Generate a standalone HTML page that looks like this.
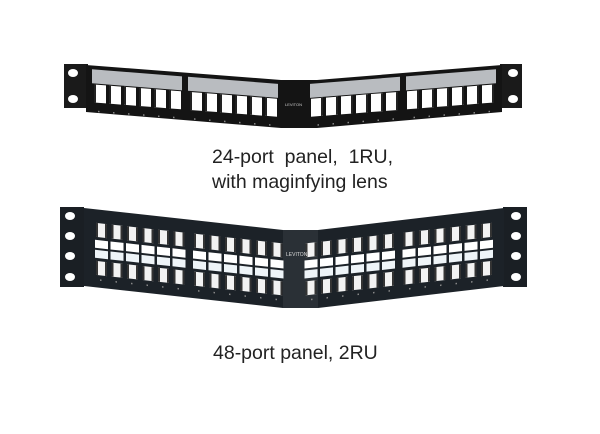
<!DOCTYPE html>
<html><head><meta charset="utf-8"><style>
html,body{margin:0;padding:0;background:#fff;width:600px;height:434px;overflow:hidden}
.t{position:absolute;font-family:"Liberation Sans",Arial,sans-serif;font-size:19.5px;color:#222;white-space:pre}
</style></head><body>
<svg id="s" width="600" height="434" style="position:absolute;left:0;top:0" xmlns="http://www.w3.org/2000/svg">
<rect x="64" y="64" width="24" height="44" fill="#1a1a1a"/>
<ellipse cx="73" cy="73" rx="5" ry="4" fill="#fff"/><ellipse cx="73" cy="99" rx="5" ry="4" fill="#fff"/>
<rect x="500" y="64" width="22" height="44" fill="#1a1a1a"/>
<ellipse cx="513" cy="73" rx="5" ry="4" fill="#fff"/><ellipse cx="513" cy="99" rx="5" ry="4" fill="#fff"/>
<polygon points="86,65 281,80 317,80 502,65 502,112 317,128 281,128 86,112" fill="#141414"/>
<g id="tl" transform="translate(88,66) matrix(1,0.078,0,1,0,0)"></g>
<g id="tr" transform="translate(500,66) scale(-1,1) matrix(1,0.078,0,1,0,0)"></g>
<text x="285" y="106" font-family="Liberation Sans,sans-serif" font-size="4" fill="#ccc">LEVITON</text>
<rect x="60" y="207" width="24" height="80" fill="#1a1f24"/>
<ellipse cx="70" cy="216" rx="5" ry="4" fill="#fff"/><ellipse cx="70" cy="236" rx="5" ry="4" fill="#fff"/><ellipse cx="70" cy="256" rx="5" ry="4" fill="#fff"/><ellipse cx="70" cy="277" rx="5" ry="4" fill="#fff"/>
<rect x="503" y="207" width="24" height="80" fill="#1a1f24"/>
<ellipse cx="516" cy="216" rx="5" ry="4" fill="#fff"/><ellipse cx="516" cy="236" rx="5" ry="4" fill="#fff"/><ellipse cx="516" cy="256" rx="5" ry="4" fill="#fff"/><ellipse cx="516" cy="277" rx="5" ry="4" fill="#fff"/>
<polygon points="84,208 283,230 318,230 504,208 504,286 318,308 283,308 84,286" fill="#1c2228"/>
<rect x="283" y="230" width="35" height="78" fill="#2a3036"/>
<g id="bl" transform="translate(88,210) matrix(1,0.11,0,1,0,0)"></g>
<g id="br" transform="translate(500,210) scale(-1,1) matrix(1,0.11,0,1,0,0)"></g>
<text x="286" y="256" font-family="Liberation Sans,sans-serif" font-size="5" fill="#ddd">LEVITON</text>
</svg>
<div class="t" style="left:212px;top:146px">24-port  panel,  1RU,</div>
<div class="t" style="left:212px;top:171px">with maginfying lens</div>
<div class="t" style="left:213px;top:342px">48-port panel, 2RU</div>
<script>
var NS="http://www.w3.org/2000/svg";
function r(g,x,y,w,h,f){var e=document.createElementNS(NS,"rect");e.setAttribute("x",x);e.setAttribute("y",y);e.setAttribute("width",w);e.setAttribute("height",h);e.setAttribute("fill",f);g.appendChild(e);}
["tl","tr"].forEach(function(id){var g=document.getElementById(id);
 [4,100].forEach(function(gx){r(g,gx,3,90,14,"#b9bcc0");
  for(var i=0;i<6;i++){var x=gx+i*15;r(g,x+2,18,12,18,"#fff");r(g,x+2,18,2,18,"#222");r(g,x+6,44,1.5,1.5,"#888");}});});
["bl","br"].forEach(function(id){var g=document.getElementById(id);
 [6,104].forEach(function(gx){
  for(var i=0;i<6;i++){var x=gx+i*15.5;
   r(g,x+2,12,11,14,"#f2f2f2");r(g,x+2,12,2,14,"#333");r(g,x+11,12,2,14,"#333");
   r(g,x+1,29,13,8,"#fff");r(g,x+1,39,13,8,"#eef4f8");
   r(g,x+2,50,11,14,"#f2f2f2");r(g,x+2,50,2,14,"#333");r(g,x+11,50,2,14,"#333");
   r(g,x+6,68,1.5,1.5,"#888");}});});
</script>
</body></html>
